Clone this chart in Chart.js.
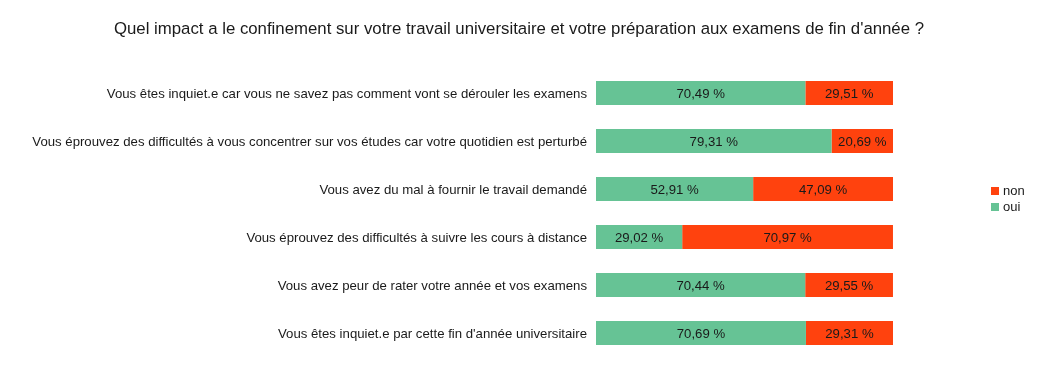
<!DOCTYPE html>
<html><head><meta charset="utf-8">
<script src="https://cdn.jsdelivr.net/npm/chart.js@4/dist/chart.umd.min.js"></script>
<style>html,body{margin:0;padding:0;background:#fff}#wrap{width:1037px;height:392px}</style>
</head><body><div id="wrap"><canvas id="c" width="1037" height="392"></canvas></div>
<script>
const categories = [
  "Vous êtes inquiet.e car vous ne savez pas comment vont se dérouler les examens",
  "Vous éprouvez des difficultés à vous concentrer sur vos études car votre quotidien est perturbé",
  "Vous avez du mal à fournir le travail demandé",
  "Vous éprouvez des difficultés à suivre les cours à distance",
  "Vous avez peur de rater votre année et vos examens",
  "Vous êtes inquiet.e par cette fin d'année universitaire"
];
const ouiValues = [70.49, 79.31, 52.91, 29.02, 70.44, 70.69];
const nonValues = [29.51, 20.69, 47.09, 70.97, 29.55, 29.31];
const seriesNames = ["oui", "non"];
const titleText = "Quel impact a le confinement sur votre travail universitaire et votre préparation aux examens de fin d'année ?";

const FONT = "'Liberation Sans', Arial, sans-serif";
const GREEN = "#66c395", RED = "#ff420e", TEXT = "#1a1a1a";

const labelPlugin = {
  id: 'vals',
  afterDatasetsDraw(chart) {
    const ctx = chart.ctx;
    ctx.save();
    ctx.font = "13.2px " + FONT;
    ctx.fillStyle = TEXT;
    ctx.textAlign = "center";
    ctx.textBaseline = "middle";
    chart.data.datasets.forEach((ds, di) => {
      chart.getDatasetMeta(di).data.forEach((bar, i) => {
        const p = bar.getProps(['x','y','base'], true);
        const cx = (p.x + p.base) / 2;
        ctx.fillText(ds.data[i].toFixed(2).replace('.', ',') + " %", cx, p.y + 1);
      });
    });
    ctx.restore();
  }
};
const decoPlugin = {
  id: 'deco',
  afterDraw(chart) {
    const ctx = chart.ctx;
    ctx.save();
    ctx.fillStyle = TEXT;
    ctx.font = "16.8px " + FONT;
    ctx.textAlign = "center";
    ctx.textBaseline = "alphabetic";
    ctx.fillText(titleText, 519, 34);
    ctx.font = "13px " + FONT;
    ctx.textBaseline = "middle";
    ctx.textAlign = "left";
    const items = [[seriesNames[1], RED], [seriesNames[0], GREEN]];
    items.forEach((it, k) => {
      const y = 187 + k * 16;
      ctx.fillStyle = it[1];
      ctx.fillRect(991, y, 8, 8);
      ctx.fillStyle = TEXT;
      ctx.fillText(it[0], 1003, y + 4);
    });
    ctx.restore();
  }
};

new Chart(document.getElementById('c'), {
  type: 'bar',
  data: {
    labels: categories,
    datasets: [
      { label: seriesNames[0], data: ouiValues, backgroundColor: GREEN, categoryPercentage: 0.5, barPercentage: 1 },
      { label: seriesNames[1], data: nonValues, backgroundColor: RED, categoryPercentage: 0.5, barPercentage: 1 }
    ]
  },
  options: {
    indexAxis: 'y',
    responsive: false,
    animation: false,
    layout: { padding: { left: 0, right: 144, top: 69, bottom: 35 } },
    plugins: {
      legend: { display: false },
      tooltip: { enabled: false },
      title: { display: false }
    },
    scales: {
      x: { stacked: true, min: 0, max: 100, display: false },
      y: {
        stacked: true,
        grid: { display: false, drawTicks: false },
        border: { display: false },
        ticks: { color: TEXT, font: { family: FONT, size: 13.2 }, padding: 9, labelOffset: 1.5 },
        afterFit(s) { s.width = 596; }
      }
    }
  },
  plugins: [labelPlugin, decoPlugin]
});
</script>
</body></html>
